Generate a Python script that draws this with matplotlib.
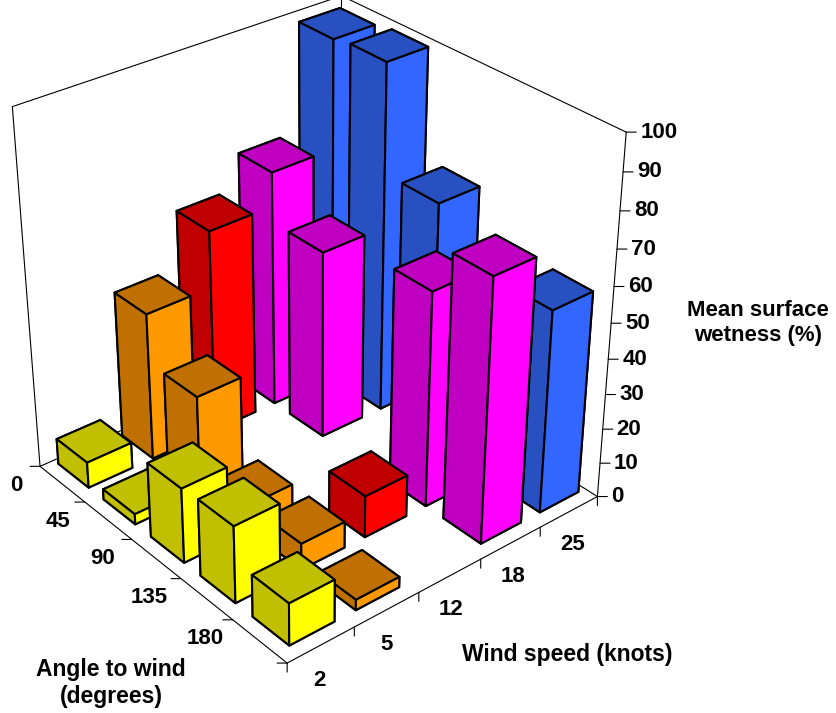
import numpy as np
import matplotlib
matplotlib.use('Agg')
import matplotlib.pyplot as plt
from mpl_toolkits.mplot3d import proj3d

plt.rcParams['font.family'] = ['Liberation Sans', 'DejaVu Sans']
plt.rcParams['font.weight'] = 'bold'

### DATA
angle_labels = ['0', '45', '90', '135', '180']
wind_labels = ['2', '5', '12', '18', '25']
wetness_ticks = [0, 10, 20, 30, 40, 50, 60, 70, 80, 90, 100]

# one list per wind speed, angle 0 -> 180, None = no bar
wet_2 = [7.5, 3, 21.5, 22, 12]
wet_5 = [42.5, 28.5, 7.5, 7.5, 3]
wet_12 = [58.5, None, None, 12, None]
wet_18 = [68, 54, None, 61, 74]
wet_25 = [98, 99, 69, None, 57.5]
rows = [wet_2, wet_5, wet_12, wet_18, wet_25]

# dark (top and left face), bright (right face)
dark_colors = ['#c0c000', '#c07000', '#c00000', '#c000c0', '#2850c0']
bright_colors = ['#ffff00', '#ff9900', '#ff0000', '#ff00ff', '#3366ff']

### FIGURE
W, H = 837, 713
fig = plt.figure(figsize=(W/100, H/100), dpi=100)
size = 702
cx, cy = 316, 309
ax = fig.add_axes([(cx - 0.5135*size)/W, (H - cy - 0.5135*size)/H, size/W, size/H],
                  projection='3d', computed_zorder=False)
ax.set_proj_type('persp', focal_length=0.6)
ax.view_init(elev=31.3, azim=-39.7)
ax.set_box_aspect((1, 1, 1.019))

### BARS, far ones first
bar_w = 0.675
gap = (1 - bar_w)/2
for j, row in enumerate(rows):
    for i, val in enumerate(row):
        if val is None:
            continue
        d, b = dark_colors[j], bright_colors[j]
        # faces: bottom, top, -y, +y, -x, +x; the +x face looks right on screen
        faces = [d, d, d, d, d, b]
        ax.bar3d(i + gap - 0.06, j + gap + 0.05, 0, bar_w, bar_w, val, color=faces, shade=False,
                 edgecolor='k', linewidth=1.5, zorder=20 + i - j)

ax.set_xlim(0, 5, view_margin=0)
ax.set_ylim(0, 5, view_margin=0)
ax.set_zlim(0, 100, view_margin=0)
ax.set_axis_off()

### FRAME
def line(p, q):
    ax.plot([p[0], q[0]], [p[1], q[1]], [p[2], q[2]], color='k', lw=0.8, zorder=1)

for p, q in [((0, 0, 0), (5, 0, 0)), ((5, 0, 0), (5, 5, 0)), ((5, 5, 0), (0, 5, 0)), ((0, 5, 0), (0, 0, 0)),
             ((0, 0, 0), (0, 0, 100)), ((5, 5, 0), (5, 5, 100)), ((0, 5, 0), (0, 5, 100)),
             ((0, 0, 100), (0, 5, 100)), ((0, 5, 100), (5, 5, 100))]:
    line(p, q)

### TICKS AND LABELS
def label(x, y, z, s, dx, dy, ha='center'):
    x2, y2, _ = proj3d.proj_transform(x, y, z, ax.get_proj())
    ax.annotate(s, (x2, y2), xytext=(dx*0.72, -dy*0.72), textcoords='offset points',
                ha=ha, va='center', fontsize=16, annotation_clip=False)

def tick(x, y, z, dx, dy):
    x2, y2, _ = proj3d.proj_transform(x, y, z, ax.get_proj())
    ax.annotate('', (x2, y2), xytext=(dx*0.72, -dy*0.72), textcoords='offset points',
                arrowprops=dict(arrowstyle='-', color='k', lw=0.8, shrinkA=0, shrinkB=0),
                annotation_clip=False)

angle_dx = [-24, -27, -29, -32, -28]
for i in range(6):
    tick(i, 0, 0, -10, 0)
    tick(5, i, 0, 0, 9)
for i in range(5):
    label(i, 0, 0, angle_labels[i], angle_dx[i], 19)
    label(5, i, 0, wind_labels[i], 32, 17)
for v in wetness_ticks:
    tick(5, 5, v, 10, 0)
    label(5, 5, v, str(v), 14, 0, ha='left')

### AXIS TITLES
fig.text(111/W, 1 - 683/H, 'Angle to wind\n(degrees)', ha='center', va='center', fontsize=16.5, linespacing=1.22)
fig.text(567/W, 1 - 655/H, 'Wind speed (knots)', ha='center', va='center', fontsize=16.5)
fig.text(758/W, 1 - 323/H, 'Mean surface\nwetness (%)', ha='center', va='center', fontsize=16, linespacing=1.25)

fig.savefig('out.png', dpi=100)
